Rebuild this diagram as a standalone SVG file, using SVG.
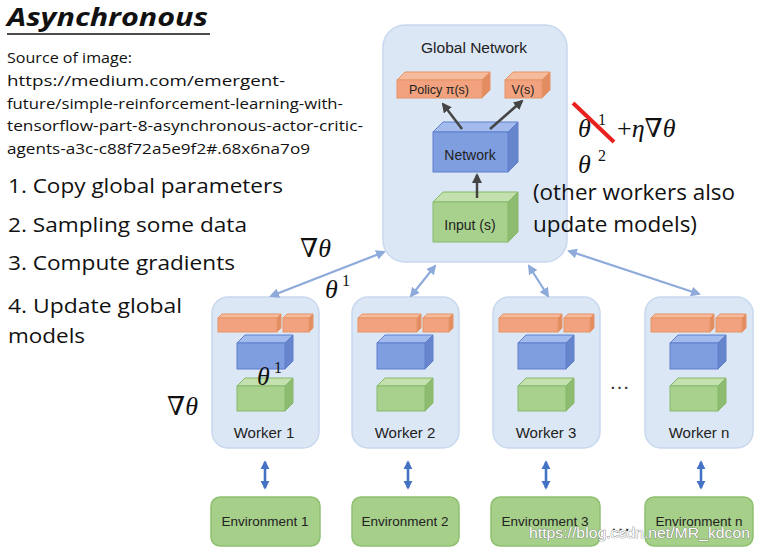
<svg xmlns="http://www.w3.org/2000/svg" width="760" height="552" viewBox="0 0 760 552">
<defs>
<style>
.bg{fill:#ffffff}
.panel{fill:#dce7f5;stroke:#c8d8ee;stroke-width:1.5}
.env{fill:#a6cf8a;stroke:#8fc06f;stroke-width:1.5}
.of{fill:#f2a27e;stroke:#e59466;stroke-width:1}
.ot{fill:#f6bb9c;stroke:#e59466;stroke-width:1}
.os{fill:#e38c62;stroke:#e59466;stroke-width:1}
.bf{fill:#7f9ee0;stroke:#5f7fcb;stroke-width:1}
.bt{fill:#a4bbee;stroke:#5f7fcb;stroke-width:1}
.bs{fill:#6685cc;stroke:#5f7fcb;stroke-width:1}
.gf{fill:#a8d18d;stroke:#86b96a;stroke-width:1}
.gt{fill:#c3e0ae;stroke:#86b96a;stroke-width:1}
.gs{fill:#8dbc70;stroke:#86b96a;stroke-width:1}
.lbl{font-family:"Liberation Sans",Arial,sans-serif;fill:#222;text-anchor:middle}
.cal{font-family:"Open Sans","Liberation Sans",sans-serif;fill:#111}
.math{font-family:"Liberation Serif","DejaVu Serif",serif;font-style:italic;fill:#111}
.sup{font-family:"Liberation Serif","DejaVu Serif",serif;font-style:normal;fill:#111;font-size:16px}
.up{font-style:normal}
.dark{stroke:#444;stroke-width:2.5;fill:none}
.diag{stroke:#8eaadb;stroke-width:2.2;fill:none}
.vert{stroke:#4472c4;stroke-width:2.6;fill:none}
</style>
<marker id="ah" viewBox="0 0 10 10" refX="8" refY="5" markerWidth="4" markerHeight="4" orient="auto-start-reverse" markerUnits="strokeWidth">
<path d="M0,0 L10,5 L0,10 z" fill="#444"/>
</marker>
<marker id="al" viewBox="0 0 10 10" refX="8" refY="5" markerWidth="4.5" markerHeight="4.5" orient="auto-start-reverse" markerUnits="strokeWidth">
<path d="M0,0 L10,5 L0,10 z" fill="#8eaadb"/>
</marker>
<marker id="ab" viewBox="0 0 10 10" refX="8" refY="5" markerWidth="3.5" markerHeight="3.5" orient="auto-start-reverse" markerUnits="strokeWidth">
<path d="M0,0 L10,5 L0,10 z" fill="#4472c4"/>
</marker>
<g id="wi">
<path class="ot" d="M6,318 L10,314 L69,314 L65,318 Z"/>
<path class="os" d="M65,318 L69,314 L69,328 L65,332 Z"/>
<rect class="of" x="6" y="318" width="59" height="14"/>
<path class="ot" d="M71,318 L75,314 L101,314 L97,318 Z"/>
<path class="os" d="M97,318 L101,314 L101,328 L97,332 Z"/>
<rect class="of" x="71" y="318" width="26" height="14"/>
<path class="bt" d="M25,343 L33,335 L81,335 L73,343 Z"/>
<path class="bs" d="M73,343 L81,335 L81,361 L73,369 Z"/>
<rect class="bf" x="25" y="343" width="48" height="26"/>
<path class="gt" d="M25,386 L33,378 L81,378 L73,386 Z"/>
<path class="gs" d="M73,386 L81,378 L81,403 L73,411 Z"/>
<rect class="gf" x="25" y="386" width="48" height="25"/>
</g>
</defs>
<rect class="bg" x="0" y="0" width="760" height="552"/>

<g id="title">
<text x="7" y="26" font-family="Open Sans,Liberation Sans,sans-serif" font-size="25" font-weight="bold" font-style="italic" fill="#111" textLength="201" lengthAdjust="spacingAndGlyphs">Asynchronous</text>
<line x1="7" y1="34" x2="210" y2="34" stroke="#111" stroke-width="1.5"/>
</g>
<g id="source" class="cal" font-size="15">
<text x="7" y="63" textLength="125" lengthAdjust="spacingAndGlyphs">Source of image:</text>
<text x="7" y="86" textLength="278" lengthAdjust="spacingAndGlyphs">https://medium.com/emergent-</text>
<text x="7" y="109" textLength="336" lengthAdjust="spacingAndGlyphs">future/simple-reinforcement-learning-with-</text>
<text x="7" y="131" textLength="356" lengthAdjust="spacingAndGlyphs">tensorflow-part-8-asynchronous-actor-critic-</text>
<text x="7" y="154" textLength="303" lengthAdjust="spacingAndGlyphs">agents-a3c-c88f72a5e9f2#.68x6na7o9</text>
</g>
<g id="steps" class="cal" font-size="20">
<text x="8" y="193" textLength="275" lengthAdjust="spacingAndGlyphs">1. Copy global parameters</text>
<text x="8" y="232" textLength="239" lengthAdjust="spacingAndGlyphs">2. Sampling some data</text>
<text x="8" y="270" textLength="227" lengthAdjust="spacingAndGlyphs">3. Compute gradients</text>
<text x="8" y="313" textLength="174" lengthAdjust="spacingAndGlyphs">4. Update global</text>
<text x="8" y="343" textLength="77" lengthAdjust="spacingAndGlyphs">models</text>
</g>

<g id="global">
<rect class="panel" x="383" y="25" width="184" height="237" rx="22"/>
<text class="lbl" x="474" y="53" font-size="15.5">Global Network</text>
<g id="policy">
<path class="ot" d="M397,80 L405,72 L490,72 L482,80 Z"/>
<path class="os" d="M482,80 L490,72 L490,90 L482,98 Z"/>
<rect class="of" x="397" y="80" width="85" height="18"/>
<text class="lbl" x="439" y="94" font-size="12.5">Policy π(s)</text>
</g>
<g id="value">
<path class="ot" d="M505,80 L513,72 L550,72 L542,80 Z"/>
<path class="os" d="M542,80 L550,72 L550,90 L542,98 Z"/>
<rect class="of" x="505" y="80" width="37" height="18"/>
<text class="lbl" x="523" y="94" font-size="12.5">V(s)</text>
</g>
<g id="network">
<path class="bt" d="M433,132 L443,122 L518,122 L508,132 Z"/>
<path class="bs" d="M508,132 L518,122 L518,162 L508,172 Z"/>
<rect class="bf" x="433" y="132" width="75" height="40"/>
<text class="lbl" x="470" y="160" font-size="14">Network</text>
</g>
<g id="input">
<path class="gt" d="M433,202 L443,192 L518,192 L508,202 Z"/>
<path class="gs" d="M508,202 L518,192 L518,232 L508,242 Z"/>
<rect class="gf" x="433" y="202" width="75" height="40"/>
<text class="lbl" x="470" y="230" font-size="14">Input (s)</text>
</g>
</g>

<g id="worker1">
<rect class="panel" x="212" y="297" width="107" height="151" rx="16"/>
<use href="#wi" x="212" y="0"/>
<text class="lbl" x="264" y="438" font-size="15">Worker 1</text>
</g>
<g id="worker2">
<rect class="panel" x="352" y="297" width="107" height="151" rx="16"/>
<use href="#wi" x="352" y="0"/>
<text class="lbl" x="405" y="438" font-size="15">Worker 2</text>
</g>
<g id="worker3">
<rect class="panel" x="493" y="297" width="107" height="151" rx="16"/>
<use href="#wi" x="493" y="0"/>
<text class="lbl" x="546" y="438" font-size="15">Worker 3</text>
</g>
<g id="workern">
<rect class="panel" x="645" y="297" width="108" height="151" rx="16"/>
<use href="#wi" x="645" y="0"/>
<text class="lbl" x="699" y="438" font-size="15">Worker n</text>
</g>

<g id="env1"><rect class="env" x="211" y="497" width="109" height="49" rx="9"/><text class="lbl" x="265" y="526" font-size="13.5">Environment 1</text></g>
<g id="env2"><rect class="env" x="352" y="497" width="107" height="49" rx="9"/><text class="lbl" x="405" y="526" font-size="13.5">Environment 2</text></g>
<g id="env3"><rect class="env" x="491" y="497" width="109" height="49" rx="9"/><text class="lbl" x="545" y="526" font-size="13.5">Environment 3</text></g>
<g id="envn"><rect class="env" x="645" y="497" width="108" height="49" rx="9"/><text class="lbl" x="699" y="526" font-size="13.5">Environment n</text></g>

<g id="connectors">
<line class="dark" x1="462" y1="129" x2="443" y2="104" marker-end="url(#ah)"/>
<line class="dark" x1="490" y1="129" x2="522" y2="101" marker-end="url(#ah)"/>
<line class="dark" x1="477" y1="198" x2="477" y2="175" marker-end="url(#ah)"/>
<line class="diag" x1="384" y1="252" x2="271" y2="296" marker-start="url(#al)" marker-end="url(#al)"/>
<line class="diag" x1="435" y1="266" x2="411" y2="296" marker-start="url(#al)" marker-end="url(#al)"/>
<line class="diag" x1="529" y1="266" x2="548" y2="296" marker-start="url(#al)" marker-end="url(#al)"/>
<line class="diag" x1="569" y1="251" x2="699" y2="294" marker-start="url(#al)" marker-end="url(#al)"/>
<line class="vert" x1="265" y1="462" x2="265" y2="488" marker-start="url(#ab)" marker-end="url(#ab)"/>
<line class="vert" x1="408" y1="462" x2="408" y2="488" marker-start="url(#ab)" marker-end="url(#ab)"/>
<line class="vert" x1="546" y1="462" x2="546" y2="488" marker-start="url(#ab)" marker-end="url(#ab)"/>
<line class="vert" x1="701" y1="462" x2="701" y2="488" marker-start="url(#ab)" marker-end="url(#ab)"/>
</g>

<g id="dots" font-family="Liberation Sans,sans-serif" font-size="21" fill="#333">
<text x="609" y="389" textLength="22" lengthAdjust="spacing">…</text>
<text x="610" y="531" textLength="22" lengthAdjust="spacing">…</text>
</g>

<g id="math">
<text class="math" x="300" y="257" font-size="26"><tspan class="up">∇</tspan>θ</text>
<text class="math" x="325" y="298" font-size="26">θ</text>
<text class="sup" x="342" y="286">1</text>
<text class="math" x="257" y="385" font-size="26">θ</text>
<text class="sup" x="274" y="373">1</text>
<text class="math" x="167" y="415" font-size="26"><tspan class="up">∇</tspan>θ</text>
<text class="math" x="578" y="137" font-size="26">θ</text>
<text class="sup" x="598" y="125">1</text>
<line x1="573" y1="103" x2="614" y2="142" stroke="#e8201e" stroke-width="4"/>
<text class="math" x="617" y="137" font-size="26"><tspan class="up">+</tspan>η<tspan class="up">∇</tspan>θ</text>
<text class="math" x="578" y="173" font-size="26">θ</text>
<text class="sup" x="598" y="161">2</text>
</g>
<g id="note" class="cal" font-size="21">
<text x="533" y="200" textLength="202" lengthAdjust="spacingAndGlyphs">(other workers also</text>
<text x="533" y="232" textLength="164" lengthAdjust="spacingAndGlyphs">update models)</text>
</g>

<g id="watermark">
<text x="529" y="538" font-family="Liberation Sans,sans-serif" font-size="15.5" fill="#ffffff" stroke="#6a6a6a" stroke-width="0.7" paint-order="stroke" textLength="221" lengthAdjust="spacingAndGlyphs">https://blog.csdn.net/MR_kdcon</text>
</g>
</svg>
